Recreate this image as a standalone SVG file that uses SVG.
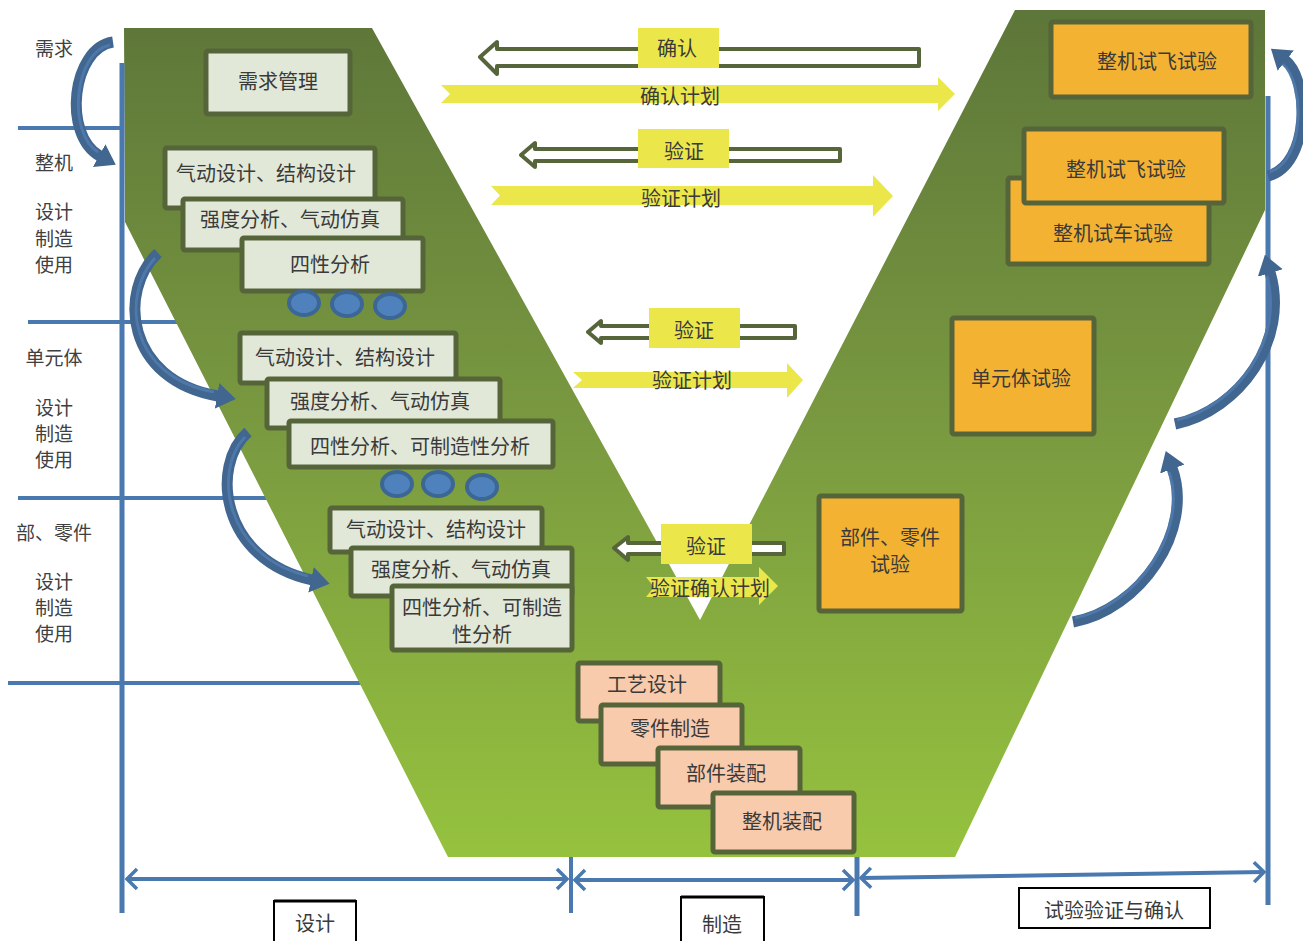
<svg xmlns="http://www.w3.org/2000/svg" width="1303" height="941" viewBox="0 0 1303 941">
<defs>
<linearGradient id="vg" x1="0" y1="10" x2="0" y2="857" gradientUnits="userSpaceOnUse">
<stop offset="0" stop-color="#5d7639"/>
<stop offset="0.5" stop-color="#7a9a40"/>
<stop offset="1" stop-color="#95c23e"/>
</linearGradient>
<marker id="ch" markerUnits="userSpaceOnUse" viewBox="-12 -12 14 24" refX="0" refY="0" markerWidth="14" markerHeight="24" orient="auto-start-reverse">
<polyline points="-10,-10 0,0 -10,10" fill="none" stroke="#4a79b0" stroke-width="3.5"/>
</marker>
<marker id="ah" markerUnits="userSpaceOnUse" viewBox="0 -14 20 28" refX="1" refY="0" markerWidth="20" markerHeight="28" orient="auto">
<path d="M0,-13 L19,0 L0,13 Z" fill="#41668f"/>
</marker>
<style>
text{font-family:"Noto Sans CJK SC","Liberation Sans",sans-serif;fill:#3a3a3a;font-size:20px;text-anchor:middle;dominant-baseline:central}
.lbl{fill:#404040;font-size:19px}
.bl{stroke:#4a79b0;fill:none}
.dz{fill:#e2e8d7;stroke:#56643a;stroke-width:5}
.mf{fill:#f8cbad;stroke:#56643a;stroke-width:5}
.ts{fill:#f4b233;stroke:#56643a;stroke-width:5}
.dot{fill:#4f81bd;stroke:#3c6795;stroke-width:4}
.ho{fill:#fff;stroke:#56653a;stroke-width:4;stroke-linejoin:round}
.yl{fill:#ebe74b}
.ca{fill:none;stroke:#41668f;stroke-width:11;marker-end:url(#ah)}
.ci{fill:none;stroke:#5584ba;stroke-width:3;opacity:0.6}
.bx{fill:#fff;stroke:#000;stroke-width:2}
</style>
</defs>

<g id="grid-lines">
<line class="bl" x1="18" y1="128" x2="122" y2="128" stroke-width="4"/>
<line class="bl" x1="28" y1="322" x2="300" y2="322" stroke-width="4"/>
<line class="bl" x1="18" y1="498" x2="400" y2="498" stroke-width="4"/>
<line class="bl" x1="8" y1="683" x2="450" y2="683" stroke-width="4"/>
</g>

<g id="v-shape">
<polygon points="124,28 372,28 700,620 1015,10 1265,10 1265,210 955,857 448,857 125,222" fill="url(#vg)"/>
</g>

<g id="axes">
<line class="bl" x1="122" y1="63" x2="122" y2="913" stroke-width="5"/>
<line class="bl" x1="1268" y1="96" x2="1268" y2="905" stroke-width="5"/>
<line class="bl" x1="571" y1="857" x2="571" y2="913" stroke-width="4"/>
<line class="bl" x1="857" y1="857" x2="857" y2="916" stroke-width="5"/>
</g>

<g id="connectors">
<line class="bl" x1="127" y1="879" x2="567" y2="879" stroke-width="4" marker-start="url(#ch)" marker-end="url(#ch)"/>
<line class="bl" x1="575" y1="880" x2="853" y2="880" stroke-width="4" marker-start="url(#ch)" marker-end="url(#ch)"/>
<line class="bl" x1="861" y1="878" x2="1264" y2="872" stroke-width="4" marker-start="url(#ch)" marker-end="url(#ch)"/>
<path class="ca" d="M113,42 C72,48 62,135 100,156"/>
<path class="ci" d="M110,45 C74,52 67,133 98,152"/>
<path class="ca" d="M158,253 C118,290 125,380 218,396"/>
<path class="ci" d="M155,258 C121,295 128,376 214,392"/>
<path class="ca" d="M248,432 C210,465 220,560 312,580"/>
<path class="ci" d="M245,437 C213,470 224,556 308,576"/>
<path class="ca" d="M1268,176 C1310,165 1310,80 1285,60"/>
<path class="ci" d="M1270,172 C1305,160 1305,84 1283,64"/>
<path class="ca" d="M1175,424 C1240,410 1290,340 1270,272"/>
<path class="ci" d="M1177,420 C1238,405 1284,340 1267,276"/>
<path class="ca" d="M1073,622 C1140,610 1195,530 1172,468"/>
<path class="ci" d="M1075,618 C1138,605 1189,530 1169,472"/>
</g>

<g id="left-labels">
<text class="lbl" x="54" y="47">需求</text>
<text class="lbl" x="54" y="161">整机</text>
<text class="lbl" x="54" y="210">设计</text>
<text class="lbl" x="54" y="237">制造</text>
<text class="lbl" x="54" y="263">使用</text>
<text class="lbl" x="54" y="356">单元体</text>
<text class="lbl" x="54" y="406">设计</text>
<text class="lbl" x="54" y="432">制造</text>
<text class="lbl" x="54" y="458">使用</text>
<text class="lbl" x="54" y="531">部、零件</text>
<text class="lbl" x="54" y="580">设计</text>
<text class="lbl" x="54" y="606">制造</text>
<text class="lbl" x="54" y="632">使用</text>
</g>

<g id="req-mgmt"><rect class="dz" x="206" y="51" width="144" height="63" rx="2"/><text x="278" y="80">需求管理</text></g>

<g id="aircraft-design">
<rect class="dz" x="165" y="148" width="210" height="60" rx="2"/><text x="266" y="172">气动设计、结构设计</text>
<rect class="dz" x="183" y="199" width="220" height="51" rx="2"/><text x="290" y="218">强度分析、气动仿真</text>
<rect class="dz" x="242" y="238" width="181" height="53" rx="2"/><text x="330" y="263">四性分析</text>
<ellipse class="dot" cx="304" cy="303" rx="15" ry="12"/>
<ellipse class="dot" cx="347" cy="304" rx="15" ry="12"/>
<ellipse class="dot" cx="390" cy="306" rx="15" ry="12"/>
</g>

<g id="unit-design">
<rect class="dz" x="240" y="333" width="216" height="50" rx="2"/><text x="345" y="356">气动设计、结构设计</text>
<rect class="dz" x="267" y="379" width="233" height="49" rx="2"/><text x="380" y="400">强度分析、气动仿真</text>
<rect class="dz" x="289" y="421" width="264" height="46" rx="2"/><text x="420" y="445">四性分析、可制造性分析</text>
<ellipse class="dot" cx="397" cy="484" rx="15" ry="12"/>
<ellipse class="dot" cx="438" cy="484" rx="15" ry="12"/>
<ellipse class="dot" cx="482" cy="487" rx="15" ry="12"/>
</g>

<g id="part-design">
<rect class="dz" x="330" y="508" width="212" height="44" rx="2"/><text x="436" y="528">气动设计、结构设计</text>
<rect class="dz" x="351" y="548" width="221" height="48" rx="2"/><text x="461" y="568">强度分析、气动仿真</text>
<rect class="dz" x="392" y="586" width="180" height="64" rx="2"/><text x="482" y="606">四性分析、可制造</text><text x="482" y="633">性分析</text>
</g>

<g id="manufacturing">
<rect class="mf" x="578" y="663" width="142" height="58" rx="2"/><text x="647" y="683">工艺设计</text>
<rect class="mf" x="601" y="705" width="141" height="59" rx="2"/><text x="670" y="727">零件制造</text>
<rect class="mf" x="658" y="748" width="142" height="59" rx="2"/><text x="726" y="772">部件装配</text>
<rect class="mf" x="713" y="793" width="141" height="59" rx="2"/><text x="782" y="820">整机装配</text>
</g>

<g id="aircraft-tests">
<rect class="ts" x="1051" y="22" width="200" height="75" rx="2"/><text x="1157" y="60">整机试飞试验</text>
<rect class="ts" x="1008" y="178" width="201" height="86" rx="2"/><text x="1113" y="232">整机试车试验</text>
<rect class="ts" x="1024" y="129" width="200" height="74" rx="2"/><text x="1126" y="168">整机试飞试验</text>
</g>

<g id="unit-test"><rect class="ts" x="952" y="318" width="142" height="116" rx="2"/><text x="1021" y="377">单元体试验</text></g>

<g id="part-test"><rect class="ts" x="819" y="496" width="143" height="115" rx="2"/><text x="890" y="536">部件、零件</text><text x="890" y="563">试验</text></g>

<g id="confirm">
<path class="ho" d="M480,57 L497,42 L497,49 L919,49 L919,66 L497,66 L497,74 Z"/>
<rect class="yl" x="638" y="28" width="81" height="40"/><text x="677" y="47">确认</text>
<polygon class="yl" points="441,85 938,85 938,77 955,94 938,111 938,103 441,103 450,94"/>
<text x="680" y="95">确认计划</text>
</g>

<g id="verify-1">
<path class="ho" d="M521,155 L535,143 L535,149 L840,149 L840,161 L535,161 L535,167 Z"/>
<rect class="yl" x="638" y="129" width="91" height="39"/><text x="684" y="150">验证</text>
<polygon class="yl" points="491,186 873,186 873,175 893,196 873,217 873,205 491,205 500,195.5"/>
<text x="681" y="197">验证计划</text>
</g>

<g id="verify-2">
<path class="ho" d="M588,332 L601,321 L601,326 L795,326 L795,338 L601,338 L601,343 Z"/>
<rect class="yl" x="649" y="308" width="91" height="40"/><text x="694" y="329">验证</text>
<polygon class="yl" points="573,372 787,372 787,363 803,380 787,398 787,388 573,388 582,380"/>
<text x="692" y="379">验证计划</text>
</g>

<g id="verify-3">
<path class="ho" d="M614,548 L628,537 L628,543 L784,543 L784,554 L628,554 L628,560 Z"/>
<rect class="yl" x="661" y="524" width="91" height="40"/><text x="706" y="545">验证</text>
<polygon class="yl" points="646,577 759,577 759,567 778,586 759,605 759,597 646,597 654,587"/>
<text x="710" y="587">验证确认计划</text>
</g>

<g id="phase-design"><rect class="bx" x="274" y="901" width="82" height="45"/><line x1="274" y1="901" x2="356" y2="901" stroke="#000" stroke-width="3"/><text x="315" y="922">设计</text></g>
<g id="phase-mfg"><rect class="bx" x="681" y="897" width="83" height="49"/><line x1="681" y1="897" x2="764" y2="897" stroke="#000" stroke-width="3"/><text x="722" y="923">制造</text></g>
<g id="phase-test"><rect class="bx" x="1019" y="888" width="191" height="40"/><text x="1114" y="909">试验验证与确认</text></g>
</svg>
